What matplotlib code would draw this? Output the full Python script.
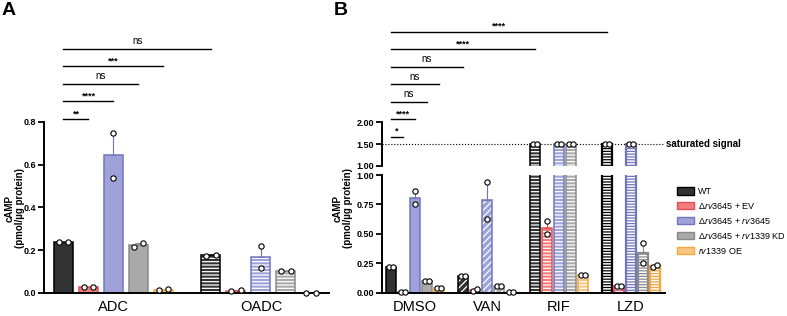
import numpy as np
import matplotlib
matplotlib.use('Agg')
import matplotlib.pyplot as plt
from matplotlib.patches import Patch
from matplotlib.transforms import blended_transform_factory

plt.rcParams['font.family'] = ['Liberation Sans', 'DejaVu Sans']
plt.rcParams['mathtext.fontset'] = 'custom'
plt.rcParams['mathtext.it'] = 'Liberation Sans:italic'
plt.rcParams['mathtext.rm'] = 'Liberation Sans'
plt.rcParams['hatch.linewidth'] = 0.9

# --------------------
# data
# --------------------
strains = ['WT',
           'Δ$\\mathit{rv3645}$ + EV',
           'Δ$\\mathit{rv3645}$ + $\\mathit{rv3645}$',
           'Δ$\\mathit{rv3645}$ + $\\mathit{rv1339}$ KD',
           '$\\mathit{rv1339}$ OE']
fills = ['#333333', '#f07c7c', '#9ea2d8', '#a9a9a9', '#f9c784']
edges = ['#000000', '#e0505a', '#7176bf', '#8a8a8a', '#f4a640']

groups_A = ['ADC', 'OADC']
pts_ADC = [[0.237, 0.237], [0.030, 0.030], [0.75, 0.54], [0.215, 0.232], [0.015, 0.017]]
pts_OADC = [[0.175, 0.180], [0.010, 0.013], [0.22, 0.115], [0.103, 0.105], [0.002, 0.002]]

groups_B = ['DMSO', 'VAN', 'RIF', 'LZD']
saturated = 1.5
pts_DMSO = [[0.22, 0.22], [0.01, 0.01], [0.865, 0.75], [0.105, 0.105], [0.04, 0.04]]
pts_VAN = [[0.14, 0.14], [0.02, 0.035], [0.94, 0.63], [0.06, 0.06], [0.005, 0.005]]
pts_RIF = [[1.5, 1.5], [0.61, 0.50], [1.5, 1.5], [1.5, 1.5], [0.155, 0.155]]
pts_LZD = [[1.5, 1.5], [0.06, 0.06], [1.5, 1.5], [0.42, 0.25], [0.22, 0.24]]

# comparisons: ((group, strain), (group, strain), label)
comp_A = [((0, 0), (0, 1), '**'), ((0, 0), (0, 2), '****'), ((0, 0), (0, 3), 'ns'),
          ((0, 0), (0, 4), '***'), ((0, 0), (1, 0), 'ns')]
comp_B = [((0, 0), (0, 1), '*'), ((0, 0), (0, 2), '****'), ((0, 0), (0, 3), 'ns'),
          ((0, 0), (0, 4), 'ns'), ((0, 0), (1, 0), 'ns'), ((0, 0), (2, 0), '****'),
          ((0, 0), (3, 0), '****')]

W = 0.76


def draw_bar(ax, x, h, i, style):
    fc, ec = fills[i], edges[i]
    if style == 'solid':
        ax.bar(x, h, W, color=fc, edgecolor=ec, lw=1.1)
    elif style == 'ladder':
        ax.bar(x, h, W, color='white', edgecolor=ec, hatch='------', lw=0)
        ax.bar(x, h, W, fill=False, edgecolor=ec, lw=1.6)
    else:
        hatch = {'stripe': '-----', 'stripe2': '-----', 'diag': '/////'}[style]
        ax.bar(x, h, W, color=fc, edgecolor='white', hatch=hatch, lw=0)
        ax.bar(x, h, W, fill=False, edgecolor=ec, lw=1.1)


def draw_points(ax, x, p, px_per_unit, keep):
    p = [v for v in p if keep(v)]
    if not p:
        return
    if len(p) == 2 and abs(p[0] - p[1]) * px_per_unit < 6:
        xs = [x - 0.19, x + 0.19]
    else:
        xs = [x] * len(p)
    ax.plot(xs, p, 'o', ms=3.8, mfc='white', mec='black', mew=0.8,
            clip_on=False, zorder=5)


def draw_err(ax, x, p, i):
    p = np.array(p)
    m = p.mean()
    sem = p.std(ddof=1) / np.sqrt(len(p))
    if sem > 0:
        ax.errorbar(x, m, yerr=[[0], [sem]], fmt='none', ecolor=edges[i],
                    elinewidth=0.8, capsize=2, capthick=0.8, zorder=4)


def bold_ticks(ax, ticks, fmt):
    ax.set_yticks(ticks)
    ax.set_yticklabels([fmt % t for t in ticks], fontweight='bold', fontsize=6.5)
    ax.tick_params(axis='y', length=4, width=1.3, pad=1.5)


def sig_lines(fig, ax, xpos, comps, y0, dy):
    tr = blended_transform_factory(ax.transData, fig.transFigure)
    for k, (a, b, lab) in enumerate(comps):
        xa, xb = xpos(*a), xpos(*b)
        y = y0 + k * dy
        ax.plot([xa, xb], [y, y], color='black', lw=1.0,
                transform=tr, clip_on=False)
        xm = (xa + xb) / 2
        if lab == 'ns':
            ax.text(xm, y + 0.008, lab, transform=tr, ha='center', va='bottom',
                    fontsize=7)
        else:
            ax.text(xm, y + 0.003, lab, transform=tr, ha='center', va='bottom',
                    fontsize=6.5, fontweight='bold')


def posA(g, i):
    return g * 5.9 + i


def posB(g, i):
    return g * 6 + i


fig = plt.figure(figsize=(7.87, 3.16), dpi=100)

# --------------------
# panel A
# --------------------
axA = fig.add_axes([0.0559, 0.0728, 0.3621, 0.5412])
axA.patch.set_alpha(0)
styles_A = ['solid', 'stripe']
for g, pts in enumerate([pts_ADC, pts_OADC]):
    for i, p in enumerate(pts):
        x = posA(g, i)
        draw_bar(axA, x, np.mean(p), i, styles_A[g])
        draw_err(axA, x, p, i)
        draw_points(axA, x, p, 213.75, lambda v: True)

axA.set_xlim(-0.78, 10.62)
axA.set_ylim(0, 0.8)
bold_ticks(axA, [0, 0.2, 0.4, 0.6, 0.8], '%.1f')
axA.set_xticks([posA(g, 2) for g in range(2)])
axA.set_xticklabels(groups_A, fontsize=10.5)
axA.tick_params(axis='x', length=0, pad=5)
for s in ['top', 'right']:
    axA.spines[s].set_visible(False)
for s in ['left', 'bottom']:
    axA.spines[s].set_linewidth(1.4)
sig_lines(fig, axA, posA, comp_A, 0.6234, 0.0554)

fig.text(15 / 787, 1 - 208 / 316, 'cAMP\n(pmol/µg protein)', fontsize=7,
         fontweight='bold', rotation=90, ha='center', va='center',
         linespacing=1.1, multialignment='center')

# --------------------
# panel B
# --------------------
axB = fig.add_axes([0.4854, 0.0728, 0.3596, 0.3734])
axT = fig.add_axes([0.4854, 0.4747, 0.3596, 0.1392])
axB.patch.set_alpha(0)
axT.patch.set_alpha(0)
styles_B = ['solid', 'diag', 'stripe2', 'ladder']
for g, pts in enumerate([pts_DMSO, pts_VAN, pts_RIF, pts_LZD]):
    for i, p in enumerate(pts):
        x = posB(g, i)
        for ax in (axB, axT):
            draw_bar(ax, x, np.mean(p), i, styles_B[g])
        if np.mean(p) < 1:
            draw_err(axB, x, p, i)
        draw_points(axB, x, p, 118, lambda v: v < 1)
        draw_points(axT, x, p, 44, lambda v: v >= 1)

for ax in (axB, axT):
    ax.set_xlim(-0.75, 22.83)
    for s in ['top', 'right']:
        ax.spines[s].set_visible(False)
    ax.spines['left'].set_linewidth(1.4)

axB.set_ylim(0, 1)
bold_ticks(axB, [0, 0.25, 0.5, 0.75, 1.0], '%.2f')
axB.spines['bottom'].set_linewidth(1.4)
axB.set_xticks([posB(g, 2) for g in range(4)])
axB.set_xticklabels(groups_B, fontsize=10.5)
axB.tick_params(axis='x', length=0, pad=5)

axT.set_ylim(1, 2)
bold_ticks(axT, [1.0, 1.5, 2.0], '%.2f')
axT.spines['bottom'].set_visible(False)
axT.set_xticks([])
axT.axhline(saturated, color='black', lw=0.8, ls=':', zorder=0)
axT.text(22.95, saturated, 'saturated signal', fontsize=7, fontweight='bold',
         va='center', ha='left', clip_on=False)

fig.text(343 / 787, 1 - 208 / 316, 'cAMP\n(pmol/µg protein)', fontsize=7,
         fontweight='bold', rotation=90, ha='center', va='center',
         linespacing=1.1, multialignment='center')

sig_lines(fig, axB, posB, comp_B, 0.5665, 0.0555)

# legend
handles = [Patch(facecolor=fills[i], edgecolor=edges[i], lw=1.0)
           for i in range(5)]
fig.legend(handles, strains, loc='upper left', bbox_to_anchor=(0.856, 0.42),
           frameon=False, fontsize=6.5, handlelength=1.8, handleheight=0.9,
           labelspacing=0.55, handletextpad=0.5, borderaxespad=0)

fig.text(0.002, 0.995, 'A', fontsize=14, fontweight='bold', va='top')
fig.text(0.424, 0.995, 'B', fontsize=14, fontweight='bold', va='top')

fig.savefig('out.png', dpi=100)
